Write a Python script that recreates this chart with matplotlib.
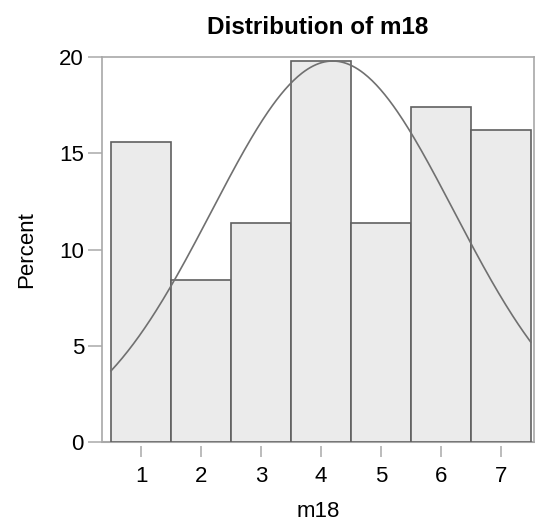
import numpy as np
import matplotlib.pyplot as plt

plt.rcParams['font.family'] = ['Liberation Sans', 'DejaVu Sans']

# histogram of m18
categories = [1, 2, 3, 4, 5, 6, 7]
percents = [15.6, 8.4, 11.4, 19.8, 11.4, 17.4, 16.2]
y_ticks = [0, 5, 10, 15, 20]


def main_function():
    x = np.array(categories, dtype=float)
    p = np.array(percents)

    # normal curve fitted to the binned data
    mean = np.sum(x * p) / np.sum(p)
    sd = np.sqrt(np.sum(p * (x - mean) ** 2) / np.sum(p))
    xs = np.linspace(0.5, 7.5, 300)
    curve = np.sum(p) / (sd * np.sqrt(2 * np.pi)) * np.exp(-0.5 * ((xs - mean) / sd) ** 2)

    fig = plt.figure(figsize=(5.35, 5.25), dpi=100)
    ax = fig.add_axes([0.1907, 0.158, 0.807, 0.733])

    ax.bar(x, p, width=1.0, color='#ebebeb', edgecolor='#606060', linewidth=1.2, zorder=2)
    ax.plot(xs, curve, color='#707070', linewidth=1.2, zorder=3)

    ax.set_xlim(0.35, 7.55)
    ax.set_ylim(0, 20)
    ax.set_xticks(categories)
    ax.set_yticks(y_ticks)

    for side in ['left', 'top', 'right']:
        ax.spines[side].set_color('#a8a8a8')
        ax.spines[side].set_linewidth(1.2)
    # baseline drawn separately so the x tick marks sit a little below it
    ax.spines['bottom'].set_visible(False)
    ax.spines['bottom'].set_position(('outward', 3))
    ax.axhline(0, color='#a8a8a8', linewidth=1.5, zorder=1, clip_on=False)

    ax.tick_params(axis='x', length=8, width=1.2, color='#b0b0b0', pad=6, labelsize=16)
    ax.tick_params(axis='y', length=10, width=1.2, color='#b0b0b0', pad=3, labelsize=16)

    ax.set_xlabel('m18', fontsize=16, labelpad=10)
    ax.set_ylabel('Percent', fontsize=16, labelpad=16)
    ax.set_title('Distribution of m18', fontsize=17.5, fontweight='bold', pad=17)

    plt.savefig('out.png', dpi=100)


if __name__ == '__main__':
    main_function()
